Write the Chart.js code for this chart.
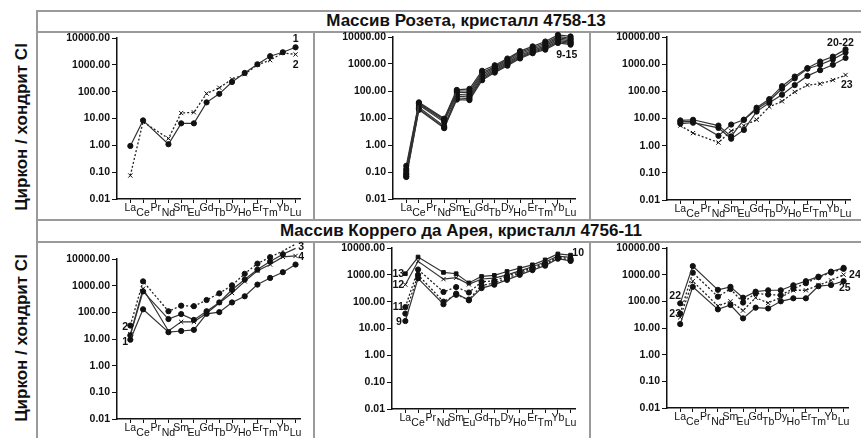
<!DOCTYPE html>
<html>
<head>
<meta charset="utf-8">
<script src="https://cdn.jsdelivr.net/npm/chart.js@4.4.0/dist/chart.umd.min.js"></script>
<style>
  body { margin: 0; background: #fff; }
  #page { position: relative; width: 861px; height: 438px; overflow: hidden; font-family: "Liberation Sans", Arial, sans-serif; }
  .ln { position: absolute; background: #9a9a9a; }
  .title { position: absolute; font-weight: bold; font-size: 17px; color: #111; white-space: nowrap; transform: translate(-50%, -50%); }
  .ylab { position: absolute; font-weight: bold; font-size: 17px; color: #111; white-space: nowrap; transform: translate(-50%, -50%) rotate(-90deg); }
  .box { position: absolute; }
</style>
</head>
<body>
<div id="page">
  <div class="ln" style="left:36px;top:10px;width:825px;height:1.5px"></div>
  <div class="ln" style="left:36px;top:31px;width:825px;height:1.5px"></div>
  <div class="ln" style="left:36px;top:219px;width:825px;height:1.5px"></div>
  <div class="ln" style="left:36px;top:241px;width:825px;height:1.5px"></div>
  <div class="ln" style="left:36px;top:10px;width:1.5px;height:428px"></div>
  <div class="ln" style="left:313px;top:31px;width:1.5px;height:188px"></div>
  <div class="ln" style="left:589px;top:31px;width:1.5px;height:188px"></div>
  <div class="ln" style="left:313px;top:241px;width:1.5px;height:197px"></div>
  <div class="ln" style="left:589px;top:241px;width:1.5px;height:197px"></div>

  <div class="title" style="left:466px;top:21px">Массив Розета, кристалл 4758-13</div>
  <div class="title" style="left:461px;top:231px">Массив Коррего да Арея, кристалл 4756-11</div>
  <div class="ylab" style="left:22px;top:127px">Циркон / хондрит CI</div>
  <div class="ylab" style="left:22px;top:338px">Циркон / хондрит CI</div>

  <div class="box" id="b1"><canvas id="c1"></canvas></div>
  <div class="box" id="b2"><canvas id="c2"></canvas></div>
  <div class="box" id="b3"><canvas id="c3"></canvas></div>
  <div class="box" id="b4"><canvas id="c4"></canvas></div>
  <div class="box" id="b5"><canvas id="c5"></canvas></div>
  <div class="box" id="b6"><canvas id="c6"></canvas></div>
</div>
<script>
// REE order on the x axis (Pr not measured)
const elements = ['La', 'Ce', 'Pr', 'Nd', 'Sm', 'Eu', 'Gd', 'Tb', 'Dy', 'Ho', 'Er', 'Tm', 'Yb', 'Lu'];
const yTicks = [0.01, 0.1, 1, 10, 100, 1000, 10000];

// Массив Розета, кристалл 4758-13
const r1 = [0.95, 8.5, null, 1.1, 6.6, 6.6, 40, 83, 230, 500, 1050, 2100, 2950, 4500];
const r2 = [0.075, 7.5, null, 1.8, 16, 17, 85, 140, 290, 450, 1000, 1500, 2800, 2450];

const r9  = [0.17, 38, null, 9.5, 110, 120, 560, 900, 1600, 3000, 4500, 6800, 12000, 10500];
const r10 = [0.13, 35, null, 9, 100, 100, 480, 800, 1450, 2700, 4000, 6000, 10500, 9000];
const r11 = [0.11, 33, null, 8, 90, 85, 420, 720, 1300, 2400, 3600, 5300, 9500, 8000];
const r12 = [0.09, 30, null, 7, 75, 70, 360, 650, 1150, 2100, 3200, 4700, 8500, 7000];
const r13 = [0.08, 25, null, 5, 65, 60, 320, 580, 1050, 1900, 2900, 4200, 7500, 6300];
const r14 = [0.07, 22, null, 4.5, 55, 52, 280, 530, 950, 1750, 2700, 3800, 6700, 5800];
const r15 = [0.065, 20, null, 4.2, 48, 46, 250, 480, 870, 1600, 2500, 3400, 6000, 5200];

const r20 = [8.5, 9, null, 5.5, 2.2, 9, 25, 52, 155, 350, 720, 1250, 1900, 3500];
const r21 = [7.5, 8, null, 2.3, 6, 9, 22, 45, 125, 300, 680, 950, 1500, 2700];
const r22 = [6.5, 7, null, 4.5, 1.8, 3.8, 18, 38, 75, 170, 370, 600, 950, 1700];
const r23 = [5.5, 2.9, null, 1.3, 3.5, 5.5, 9, 27, 43, 95, 170, 190, 260, 400];

// Массив Коррего да Арея, кристалл 4756-11
const k1 = [9.4, 130, null, 18, 20, 22, 88, 102, 235, 400, 1100, 1950, 3200, 6200];
const k2 = [32, 1450, null, 110, 178, 170, 290, 515, 1030, 2800, 6700, 11700, 20000, 36000];
const k3 = [13.7, 610, null, 56, 86, 52, 110, 235, 700, 1700, 4000, 8000, 15000, 25000];
const k4 = [15, 770, null, 20, 44, 44, 92, 225, 530, 1450, 3600, 6200, 12000, 13000];

const k9  = [19, 740, null, 80, 200, 112, 320, 430, 650, 1000, 1500, 2200, 4000, 3300];
const k10 = [36, 1000, null, 100, 180, 120, 400, 500, 750, 1150, 1600, 2500, 4200, 3500];
const k11 = [63, 1580, null, 230, 350, 220, 550, 600, 900, 1300, 1800, 2700, 4500, 4000];
const k12 = [430, 3200, null, 690, 780, 440, 700, 750, 1000, 1400, 2000, 3000, 5000, 4500];
const k13 = [1100, 4600, null, 1230, 1100, 500, 870, 950, 1330, 1770, 2360, 3600, 6000, 5400];

const k22 = [84, 2100, null, 270, 350, 137, 230, 260, 260, 400, 570, 840, 1300, 1800];
const k23 = [35, 1190, null, 150, 290, 90, 200, 180, 170, 300, 480, 800, 1200, 1650];
const k24 = [25, 570, null, 67, 100, 45, 137, 87, 140, 260, 260, 400, 610, 1000];
const k25 = [14, 350, null, 50, 73, 23, 58, 54, 100, 130, 130, 370, 410, 570];

// line styles
function solid(data, marker) {
    return {
        data: data.map((v, i) => ({x: i, y: v})),
        borderColor: '#333',
        borderWidth: 1.2,
        pointStyle: marker || 'circle',
        pointRadius: marker === 'crossRot' ? 3 : 2.6,
        pointBackgroundColor: '#111',
        pointBorderColor: '#111',
        pointBorderWidth: 1,
        spanGaps: true,
        clip: false
    };
}
function dotted(data, marker) {
    const ds = solid(data, marker);
    ds.borderColor = '#222';
    ds.borderDash = [2, 2];
    ds.borderWidth = 1.3;
    return ds;
}

// sample number labels, placed in data coordinates
const notesPlugin = {
    id: 'notes',
    afterDatasetsDraw(chart, args, opts) {
        const {ctx, scales} = chart;
        ctx.save();
        ctx.font = 'bold 10.5px "Liberation Sans", Arial, sans-serif';
        ctx.fillStyle = '#111';
        ctx.textAlign = 'center';
        ctx.textBaseline = 'middle';
        (opts.items || []).forEach(n => {
            ctx.fillText(n.text, scales.x.getPixelForValue(n.x), scales.y.getPixelForValue(n.y));
        });
        ctx.restore();
    }
};

const YW = 70, XH = 28;

function makePanel(n, box, datasets, notes) {
    const padTop = box.padTop || 10, padRight = 12;
    const div = document.getElementById('b' + n);
    div.style.left = (box.axisX - YW) + 'px';
    div.style.top = (box.top - padTop) + 'px';
    div.style.width = (box.right - box.axisX + YW + padRight) + 'px';
    div.style.height = (box.bottom - box.top + padTop + XH) + 'px';

    new Chart('c' + n, {
        type: 'line',
        data: { datasets: datasets },
        plugins: [notesPlugin],
        options: {
            responsive: true,
            maintainAspectRatio: false,
            animation: false,
            layout: { padding: { top: padTop, right: padRight, left: 0, bottom: 0 } },
            plugins: {
                legend: { display: false },
                tooltip: { enabled: false },
                notes: { items: notes }
            },
            scales: {
                x: {
                    type: 'linear',
                    min: -1.05,
                    max: 13.35,
                    afterBuildTicks: s => { s.ticks = elements.map((e, i) => ({value: i})); },
                    afterFit: s => { s.height = XH; },
                    grid: { drawOnChartArea: false, color: '#111', tickLength: 4, lineWidth: 1 },
                    border: { color: '#111', width: 1.5 },
                    ticks: {
                        autoSkip: false,
                        maxRotation: 0,
                        padding: 2,
                        color: '#111',
                        font: { family: '"Liberation Sans", Arial, sans-serif', size: 10.5, lineHeight: 0.52 },
                        callback: v => (v % 2 ? ['', elements[v]] : elements[v])
                    }
                },
                y: {
                    type: 'logarithmic',
                    min: 0.01,
                    max: 10000,
                    afterBuildTicks: s => { s.ticks = yTicks.map(v => ({value: v})); },
                    afterFit: s => { s.width = YW; },
                    grid: { drawOnChartArea: false, color: '#111', tickLength: 5, lineWidth: 1 },
                    border: { color: '#111', width: 1.5 },
                    ticks: {
                        padding: 2,
                        color: '#111',
                        font: { family: '"Liberation Sans", Arial, sans-serif', size: 10.5, weight: 'bold' },
                        callback: v => Number(v).toFixed(2)
                    }
                }
            }
        }
    });
}

makePanel(1, {axisX: 117, top: 38, bottom: 199, right: 300},
    [solid(r1), dotted(r2, 'crossRot')],
    [{text: '1', x: 13, y: 9000}, {text: '2', x: 13, y: 1000}]);

makePanel(2, {axisX: 393, top: 37, bottom: 199, right: 575},
    [r9, r10, r11, r12, r13, r14, r15].map(d => solid(d)),
    [{text: '9-15', x: 12.7, y: 2150}]);

makePanel(3, {axisX: 667, top: 37, bottom: 200, right: 850},
    [solid(r20), solid(r21), solid(r22), dotted(r23, 'crossRot')],
    [{text: '20-22', x: 12.6, y: 6000}, {text: '23', x: 13.1, y: 170}]);

makePanel(4, {axisX: 117, top: 259, bottom: 419, right: 300, padTop: 20},
    [solid(k1), dotted(k2), solid(k3), solid(k4, 'crossRot')],
    [{text: '2', x: -0.4, y: 28}, {text: '1', x: -0.4, y: 7.8},
     {text: '3', x: 13.45, y: 28000}, {text: '4', x: 13.45, y: 12000}]);

makePanel(5, {axisX: 392, top: 248, bottom: 409, right: 575},
    [solid(k9), dotted(k10), dotted(k11), solid(k12, 'crossRot'), solid(k13, 'rect')],
    [{text: '13', x: -0.55, y: 1070}, {text: '12', x: -0.55, y: 420},
     {text: '11', x: -0.55, y: 63}, {text: '9', x: -0.5, y: 17}, {text: '10', x: 13.6, y: 6500}]);

makePanel(6, {axisX: 667, top: 248, bottom: 408, right: 848},
    [solid(k22), dotted(k23), dotted(k24, 'crossRot'), solid(k25)],
    [{text: '22', x: -0.4, y: 160}, {text: '23', x: -0.4, y: 34},
     {text: '24', x: 13.9, y: 970}, {text: '25', x: 13.1, y: 320}]);
</script>
</body>
</html>
